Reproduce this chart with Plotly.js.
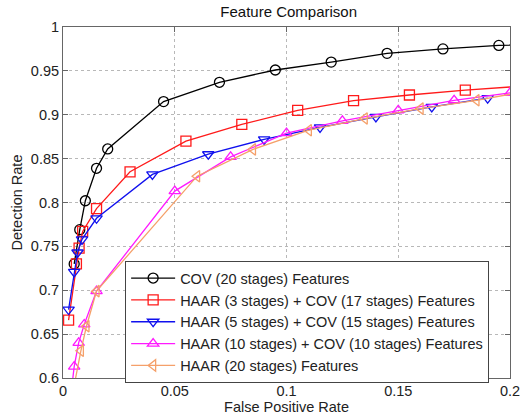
<!DOCTYPE html>
<html>
<head>
<meta charset="utf-8">
<script src="https://cdn.plot.ly/plotly-3.0.1.min.js"></script>
<style>html,body{margin:0;padding:0;background:#fff;}#chart{width:522px;height:420px;}</style>
</head>
<body>
<div id="chart"></div>
<script>
const seriesNames = [
  "COV (20 stages) Features",
  "HAAR (3 stages) + COV (17 stages) Features",
  "HAAR (5 stages) + COV (15 stages) Features",
  "HAAR (10 stages) + COV (10 stages) Features",
  "HAAR (20 stages) Features"
];
const covX = [0.005, 0.0075, 0.01, 0.015, 0.02, 0.045, 0.07, 0.095, 0.12, 0.145, 0.17, 0.195, 0.22];
const covY = [0.73, 0.769, 0.802, 0.839, 0.861, 0.915, 0.937, 0.951, 0.960, 0.970, 0.975, 0.979, 0.981];
const haar3X = [0.0025, 0.006, 0.0072, 0.0088, 0.015, 0.03, 0.055, 0.08, 0.105, 0.13, 0.155, 0.18, 0.205];
const haar3Y = [0.666, 0.73, 0.748, 0.767, 0.793, 0.835, 0.870, 0.889, 0.905, 0.916, 0.9225, 0.928, 0.9325];
const haar5X = [0.0025, 0.005, 0.0065, 0.0085, 0.015, 0.04, 0.065, 0.09, 0.115, 0.14, 0.165, 0.19];
const haar5Y = [0.678, 0.721, 0.743, 0.758, 0.782, 0.832, 0.855, 0.872, 0.8855, 0.8975, 0.909, 0.919];
const haar10X = [0.0035, 0.005, 0.007, 0.0095, 0.015, 0.05, 0.075, 0.1, 0.125, 0.15, 0.175, 0.2];
const haar10Y = [0.58, 0.613, 0.64, 0.661, 0.699, 0.813, 0.852, 0.879, 0.893, 0.905, 0.9165, 0.925];
const haar20X = [0.0045, 0.008, 0.0105, 0.015, 0.06, 0.085, 0.11, 0.135, 0.16, 0.185, 0.21];
const haar20Y = [0.585, 0.631, 0.659, 0.699, 0.830, 0.8605, 0.8824, 0.8957, 0.907, 0.9165, 0.928];
const xTicks = [0, 0.05, 0.1, 0.15, 0.2];
const xTickText = ["0", "0.05", "0.1", "0.15", "0.2"];
const yTicks = [0.6, 0.65, 0.7, 0.75, 0.8, 0.85, 0.9, 0.95, 1];
const yTickText = ["0.6", "0.65", "0.7", "0.75", "0.8", "0.85", "0.9", "0.95", "1"];

const colors = ["#000000", "#ff1a1a", "#1010ee", "#ff1aff", "#f5a06a"];
const symbols = ["circle-open", "square-open", "triangle-down-open", "triangle-up-open", "triangle-left-open"];
const xs = [covX, haar3X, haar5X, haar10X, haar20X];
const ys = [covY, haar3Y, haar5Y, haar10Y, haar20Y];

const traces = seriesNames.map((n, i) => ({
  type: "scatter", mode: "lines+markers", name: n,
  x: xs[i], y: ys[i],
  line: {color: colors[i], width: 1.3},
  marker: {symbol: symbols[i], size: 10, color: colors[i], line: {color: colors[i], width: 1.3}}
}));

const font = {family: "Liberation Sans, Arial, sans-serif", size: 14.5, color: "#222"};
const axisCommon = {
  showline: true, linecolor: "#666", linewidth: 1, mirror: "ticks",
  ticks: "inside", ticklen: 5, tickcolor: "#666",
  showgrid: true, gridcolor: "#b8b8b8", griddash: "dot", gridwidth: 1,
  zeroline: false, tickfont: font
};
const layout = {
  width: 522, height: 420,
  margin: {l: 63, r: 12, t: 27, b: 42},
  paper_bgcolor: "#fff", plot_bgcolor: "#fff",
  font: font,
  title: {text: "Feature Comparison", font: {family: font.family, size: 15, color: "#111"}, x: 0.553, xanchor: "center", y: 0.972, yanchor: "middle", yref: "container"},
  xaxis: Object.assign({}, axisCommon, {range: [0, 0.2], tickvals: xTicks, ticktext: xTickText,
    title: {text: "False Positive Rate", font: font, standoff: 2}}),
  yaxis: Object.assign({}, axisCommon, {range: [0.6, 1], tickvals: yTicks, ticktext: yTickText,
    title: {text: "Detection Rate", font: font, standoff: 4}}),
  legend: {x: 0.139, y: 0.333, xanchor: "left", yanchor: "top", bgcolor: "#fff",
    bordercolor: "#444", borderwidth: 1, font: font, tracegroupgap: 0, itemwidth: 44},
  showlegend: true
};
Plotly.newPlot("chart", traces, layout, {displayModeBar: false, staticPlot: true});
</script>
</body>
</html>
